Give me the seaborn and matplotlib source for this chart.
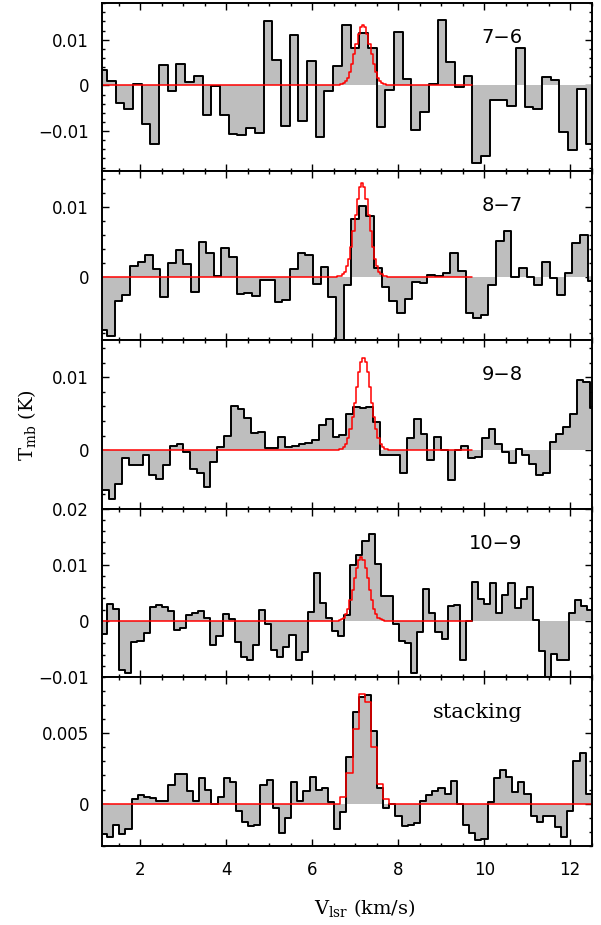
import matplotlib
matplotlib.use('Agg')
import matplotlib.pyplot as plt
from matplotlib.ticker import MultipleLocator, FuncFormatter
import numpy as np
import seaborn as sns

# Observed spectra (T_mb in K), one value per channel
# channel grid = (first left edge, channel width) in km/s
grid_76 = (1.0175, 0.2025)
tmb_76 = [0.0034, 0.0010, -0.0039, -0.0051, 0.0004, -0.0085, -0.0128, 0.0044, -0.0013, 0.0047,
          0.0008, 0.0021, -0.0064, -0.0002, -0.0064, -0.0106, -0.0109, -0.0093, -0.0104, 0.0142,
          0.0055, -0.0088, 0.0111, -0.0077, 0.0054, -0.0112, -0.0012, 0.0042, 0.0133, 0.0081,
          0.0114, 0.0081, -0.0092, -0.0009, 0.0116, 0.0014, -0.0098, -0.0058, 0.0004, 0.0144,
          0.0052, -0.0003, 0.0020, -0.0169, -0.0155, -0.0032, -0.0031, -0.0045, 0.0082, -0.0047,
          -0.0051, 0.0018, 0.0012, -0.0101, -0.0142, -0.0007, -0.0128]

grid_87 = (1.0465, 0.1775)
tmb_87 = [-0.0076, -0.0085, -0.0034, -0.0026, 0.0015, 0.0022, 0.0032, 0.0011, -0.0029, 0.0020,
          0.0038, 0.0018, -0.0021, 0.0050, 0.0034, 0.0001, 0.0041, 0.0028, -0.0025, -0.0023,
          -0.0027, -0.0004, -0.0004, -0.0036, -0.0033, 0.0011, 0.0034, 0.0032, -0.0010, 0.0014,
          -0.0028, -0.0100, -0.0011, 0.0083, 0.0101, 0.0087, 0.0013, -0.0014, -0.0035, -0.0052,
          -0.0031, -0.0007, -0.0008, 0.0003, 0.0001, 0.0005, 0.0034, 0.0009, -0.0052, -0.0059,
          -0.0055, -0.0011, 0.0052, 0.0065, 0.0000, 0.0013, 0.0000, -0.0012, 0.0022, -0.0001,
          -0.0026, 0.0006, 0.0048, 0.0060, -0.0006]

grid_98 = (1.1052, 0.1578)
tmb_98 = [-0.0055, -0.0067, -0.0047, -0.0011, -0.0021, -0.0020, -0.0007, -0.0034, -0.0040, -0.0021,
          0.0006, 0.0008, -0.0003, -0.0026, -0.0032, -0.0050, -0.0016, 0.0004, 0.0020, 0.0061,
          0.0057, 0.0044, 0.0023, 0.0025, 0.0003, 0.0003, 0.0018, 0.0004, 0.0006, 0.0008,
          0.0010, 0.0014, 0.0034, 0.0042, 0.0018, 0.0021, 0.0049, 0.0059, 0.0058, 0.0059,
          0.0038, -0.0007, -0.0007, -0.0007, -0.0031, 0.0016, 0.0042, 0.0022, -0.0013, 0.0018,
          0.0000, -0.0041, 0.0000, 0.0006, -0.0011, -0.0009, 0.0016, 0.0029, 0.0008, -0.0002,
          -0.0017, 0.0002, -0.0007, -0.0019, -0.0034, -0.0032, 0.0011, 0.0022, 0.0031, 0.0050,
          0.0096, 0.0094, 0.0058]

grid_109 = (1.0825, 0.1415)
tmb_109 = [-0.0023, 0.0030, 0.0021, -0.0087, -0.0093, -0.0038, -0.0036, -0.0021, 0.0025, 0.0028,
           0.0024, 0.0017, -0.0016, -0.0012, 0.0010, 0.0014, 0.0018, 0.0005, -0.0043, -0.0027,
           0.0012, 0.0004, -0.0037, -0.0065, -0.0070, -0.0043, 0.0020, -0.0006, -0.0052, -0.0064,
           -0.0046, -0.0025, -0.0069, -0.0056, 0.0015, 0.0086, 0.0031, 0.0006, -0.0018, -0.0027,
           0.0011, 0.0099, 0.0117, 0.0143, 0.0154, 0.0101, 0.0045, 0.0044, -0.0005, -0.0036,
           -0.0040, -0.0093, -0.0020, 0.0057, 0.0014, -0.0020, -0.0032, 0.0027, 0.0029, -0.0069,
           0.0000, 0.0069, 0.0039, 0.0030, 0.0067, 0.0014, 0.0046, 0.0067, 0.0023, 0.0039,
           0.0060, 0.0001, -0.0054, -0.0101, -0.0059, -0.0069, -0.0070, 0.0014, 0.0038, 0.0027,
           0.0020]

grid_stack = (1.0812, 0.1428)
tmb_stack = [-0.0022, -0.0024, -0.0015, -0.0022, -0.0018, 0.0003, 0.0006, 0.0005, 0.0004, 0.0002,
             0.0002, 0.0013, 0.0021, 0.0021, 0.0009, 0.0002, 0.0018, 0.0010, 0.0000, 0.0005,
             0.0018, 0.0015, -0.0005, -0.0013, -0.0016, -0.0015, 0.0013, 0.0017, -0.0003, -0.0021,
             -0.0010, 0.0015, 0.0002, 0.0009, 0.0019, 0.0010, 0.0011, 0.0001, -0.0018, -0.0006,
             0.0033, 0.0065, 0.0076, 0.0077, 0.0052, 0.0011, -0.0003, 0.0000, -0.0009, -0.0016,
             -0.0015, -0.0014, 0.0002, 0.0006, 0.0009, 0.0011, 0.0007, 0.0016, 0.0000, -0.0015,
             -0.0021, -0.0026, -0.0025, 0.0001, 0.0018, 0.0024, 0.0019, 0.0008, 0.0015, 0.0007,
             -0.0009, -0.0013, -0.0009, -0.0009, -0.0017, -0.0024, -0.0005, 0.0030, 0.0036, 0.0007]

# Model line (red): fine 0.05 km/s steps around the line centre, zero elsewhere
fit_step = 0.05
fit_range = (1.1, 9.72)
fit_center = {'7-6': 7.18, '8-7': 7.16, '9-8': 7.19, '10-9': 7.14}
fit_76 = [0.0000, 0.0001, 0.0002, 0.0005, 0.0009, 0.0017, 0.0030, 0.0047, 0.0068, 0.0091, 0.0112, 0.0127, 0.0132,
          0.0127, 0.0112, 0.0091, 0.0068, 0.0047, 0.0030, 0.0017, 0.0009, 0.0005, 0.0002, 0.0001, 0.0000]
fit_87 = [0.0000, 0.0001, 0.0002, 0.0004, 0.0007, 0.0015, 0.0026, 0.0043, 0.0065, 0.0089, 0.0112, 0.0128, 0.0134,
          0.0128, 0.0112, 0.0089, 0.0065, 0.0043, 0.0026, 0.0015, 0.0007, 0.0004, 0.0002, 0.0001, 0.0000]
fit_98 = [0.0000, 0.0001, 0.0002, 0.0004, 0.0009, 0.0017, 0.0029, 0.0045, 0.0065, 0.0087, 0.0107, 0.0121, 0.0126,
          0.0121, 0.0107, 0.0087, 0.0065, 0.0045, 0.0029, 0.0017, 0.0009, 0.0004, 0.0002, 0.0001, 0.0000]
fit_109 = [0.0000, 0.0000, 0.0001, 0.0003, 0.0006, 0.0012, 0.0022, 0.0037, 0.0055, 0.0076, 0.0095, 0.0109, 0.0114,
           0.0109, 0.0095, 0.0076, 0.0055, 0.0037, 0.0022, 0.0012, 0.0006, 0.0003, 0.0001, 0.0000, 0.0000]
fit_stack = [0.0] * 39 + [0.0005, 0.0022, 0.0053, 0.0078, 0.0072, 0.0040, 0.0014, 0.0003] + [0.0] * 33

# y axis setup per panel: limits, labelled ticks, minor step
ylims = [(-0.0188, 0.0181), (-0.0090, 0.0151), (-0.0080, 0.0151), (-0.0100, 0.0200), (-0.0030, 0.0090)]
yticks = [[-0.01, 0, 0.01], [0, 0.01], [0, 0.01], [-0.01, 0, 0.01, 0.02], [0, 0.005]]
yminor = [0.002, 0.002, 0.002, 0.002, 0.001]
xticks = [2, 4, 6, 8, 10, 12]

sns.set_style("ticks")
plt.rcParams['font.family'] = ['DejaVu Sans']
plt.rcParams['mathtext.fontset'] = 'dejavuserif'
for key in ['text.color', 'axes.labelcolor', 'axes.edgecolor', 'xtick.color', 'ytick.color']:
    plt.rcParams[key] = 'black'

fig, axes = plt.subplots(5, 1, figsize=(6.01, 9.25), dpi=100, sharex=True)
fig.subplots_adjust(left=0.1692, right=0.9845, top=0.9971, bottom=0.0857, hspace=0)

panels = [('7-6', grid_76, tmb_76, fit_76), ('8-7', grid_87, tmb_87, fit_87),
          ('9-8', grid_98, tmb_98, fit_98), ('10-9', grid_109, tmb_109, fit_109),
          ('stacking', grid_stack, tmb_stack, fit_stack)]

fmt = FuncFormatter(lambda v, p: ('%g' % round(v, 4)).replace('-', '\u2212'))

for i, (name, grid, tmb, fit) in enumerate(panels):
    ax = axes[i]
    v0, dv = grid
    edges = v0 + dv * np.arange(len(tmb) + 1)
    y = np.append(tmb, tmb[-1])

    ax.fill_between(edges, y, 0, step='post', color='#bebebe', linewidth=0)
    sns.lineplot(x=edges, y=y, drawstyle='steps-post', color='black', lw=1.4,
                 estimator=None, sort=False, ax=ax)

    # red model
    if name == 'stacking':
        fx, fy = edges, np.append(fit, fit[-1])
    else:
        c = fit_center[name]
        fine = c - 12.5 * fit_step + fit_step * np.arange(len(fit) + 1)
        fx = np.concatenate([[fit_range[0]], fine, [fit_range[1]]])
        fy = np.concatenate([[0.0], fit, [0.0, 0.0]])
    sns.lineplot(x=fx, y=fy, drawstyle='steps-post', color='red', lw=1.1,
                 estimator=None, sort=False, ax=ax)

    ax.set_xlim(1.1, 12.5)
    ax.set_ylim(*ylims[i])
    ax.set_yticks(yticks[i])
    ax.yaxis.set_minor_locator(MultipleLocator(yminor[i]))
    ax.yaxis.set_major_formatter(fmt)
    ax.set_xticks(xticks)
    ax.xaxis.set_minor_locator(MultipleLocator(0.5))
    ax.tick_params(which='both', direction='in', top=True, right=True, width=1.0,
                   labelsize=12, color='black', labelcolor='black')
    ax.tick_params(which='major', length=5)
    ax.tick_params(which='minor', length=2.5)
    ax.tick_params(axis='y', pad=9)
    ax.tick_params(axis='x', pad=11)
    for s in ax.spines.values():
        s.set_linewidth(1.4)
        s.set_color('black')
    ax.set_xlabel('')
    ax.set_ylabel('')

    if name == 'stacking':
        ax.text(0.859, 0.79, name, transform=ax.transAxes, ha='right', va='center',
                fontsize=15, family='DejaVu Serif', color='black')
    else:
        ax.text(0.859, 0.795, name.replace('-', '\u2212'), transform=ax.transAxes,
                ha='right', va='center', fontsize=14, color='black')

fig.text(0.045, 0.5405, r'$\mathrm{T_{mb}}$ (K)', rotation=90, ha='center', va='center',
         fontsize=14, family='DejaVu Serif', color='black')
fig.text(0.607, 0.012, r'$\mathrm{V_{lsr}}$ (km/s)', ha='center', va='baseline',
         fontsize=14, family='DejaVu Serif', color='black')

fig.savefig('out.png', dpi=100)
